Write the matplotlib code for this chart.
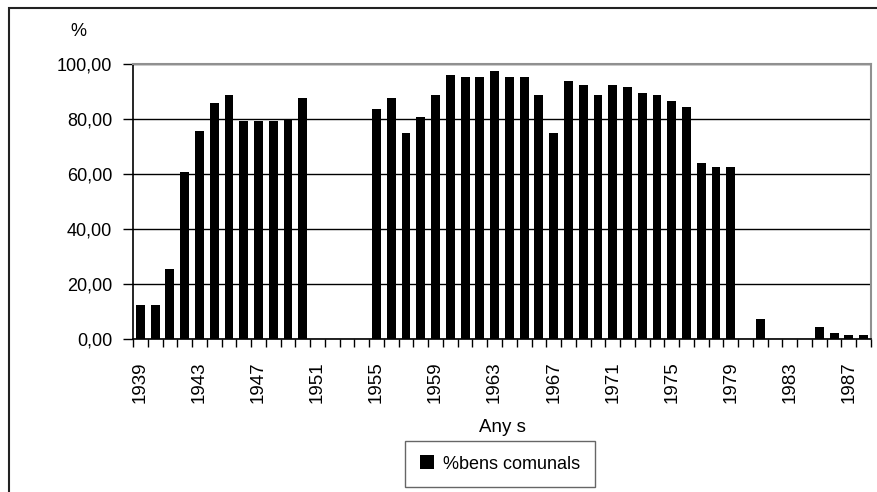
import matplotlib
matplotlib.use('Agg')
import matplotlib.pyplot as plt
from matplotlib.patches import Rectangle, Patch
import numpy as np

plt.rcParams['font.family'] = ['Liberation Sans', 'DejaVu Sans']

# data
years = list(range(1939, 1989))
values = [12.3, 12.3, 25.3, 60.8, 75.5, 85.7, 88.6, 79.3, 79.3, 79.3, 79.9, 87.8,
          0, 0, 0, 0,
          83.6, 87.8, 74.9, 80.7, 88.6, 96.0, 95.1, 95.1, 97.3, 95.1, 95.1, 88.6,
          74.9, 93.7, 92.4, 88.6, 92.4, 91.5, 89.5, 88.6, 86.4, 84.4, 64.0, 62.5, 62.5,
          0, 7.4, 0, 0, 0, 4.5, 2.3, 1.6, 1.6]
year_labels = [str(y) for y in years[::4]]
y_ticks = [0, 20, 40, 60, 80, 100]
series_name = '%bens comunals'

W, H = 877, 492
fig = plt.figure(figsize=(W / 100, H / 100), dpi=100)
ax = fig.add_axes([133 / W, 1 - 339 / H, (871 - 133) / W, (339 - 64) / H])

x = np.arange(len(years))
ax.bar(x, values, width=0.6, color='black', zorder=3)

ax.set_xlim(-0.5, len(years) - 0.5)
ax.set_ylim(0, 100)

# tick marks on category boundaries, labels on every 4th category
ax.set_xticks(np.arange(-0.5, len(years), 1.0))
ax.set_xticklabels([])
ax.set_xticks(x[::4], year_labels, minor=True)
ax.tick_params(axis='x', which='major', direction='out', length=6, width=1, color='black')
ax.tick_params(axis='x', which='minor', length=0, pad=16, labelrotation=90, labelsize=13.5)

ax.set_yticks(y_ticks)
ax.set_yticklabels([f'{v:.2f}'.replace('.', ',') for v in y_ticks])
ax.tick_params(axis='y', direction='out', length=7, width=1, pad=8, labelsize=13)
ax.grid(axis='y', color='black', linewidth=1, zorder=1)

for side in ['left', 'bottom']:
    ax.spines[side].set_color('black')
    ax.spines[side].set_linewidth(1.2)
for side in ['top', 'right']:
    ax.spines[side].set_color('#909090')
    ax.spines[side].set_linewidth(1.5)
ax.spines['top'].set_zorder(4)

fig.text(78 / W, 1 - 31 / H, '%', fontsize=13, ha='center', va='center')
fig.text(502 / W, 1 - 427 / H, 'Any s', fontsize=13.5, ha='center', va='center')

leg = fig.legend([Patch(facecolor='black')], [series_name], loc='center',
                 bbox_to_anchor=(500 / W, 1 - 464 / H), fontsize=13,
                 frameon=True, fancybox=False, handlelength=0.8, handleheight=0.8,
                 handletextpad=0.5, borderpad=0.8)
leg.get_frame().set_edgecolor('#404040')
leg.get_frame().set_linewidth(1.0)

# outer chart frame (only top and left edges fall inside the image)
fig.patches.append(Rectangle((9 / W, -0.1), 1.2, 1 - 8 / H + 0.1, transform=fig.transFigure,
                             fill=False, edgecolor='#222222', linewidth=1.5))

fig.savefig('out.png', dpi=100)
